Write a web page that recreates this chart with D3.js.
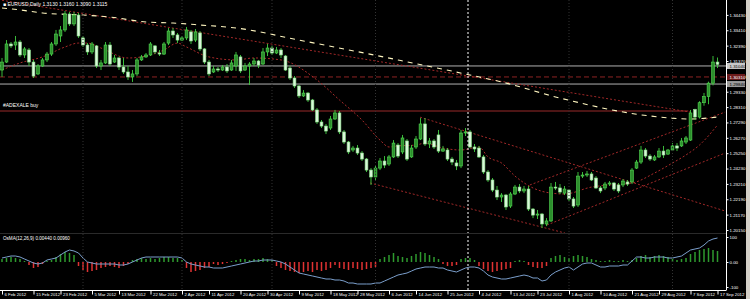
<!DOCTYPE html>
<html>
<head>
<meta charset="utf-8">
<script src="https://cdn.jsdelivr.net/npm/d3@7"></script>
<style>
  body { margin: 0; background: #000; }
  svg { display: block; font-family: Arial, "Liberation Sans", sans-serif; }
</style>
</head>
<body>
<div id="chart"></div>
<script>
// EURUSD daily bars, 6 Feb 2012 .. 17 Sep 2012 : [open, high, low, close]
var ohlc = [
  [1.3077,1.3157,1.3031,1.3130],[1.3130,1.3276,1.3124,1.3250],[1.3250,1.3263,1.3223,1.3237],[1.3243,1.3303,1.3210,1.3263],
  [1.3263,1.3276,1.3164,1.3177],[1.3177,1.3230,1.3157,1.3217],[1.3210,1.3223,1.3104,1.3130],[1.3130,1.3144,1.3024,1.3037],
  [1.3051,1.3117,1.3044,1.3104],[1.3104,1.3157,1.3097,1.3144],[1.3144,1.3197,1.3130,1.3183],[1.3183,1.3263,1.3170,1.3250],
  [1.3250,1.3343,1.3237,1.3316],[1.3303,1.3369,1.3263,1.3343],[1.3343,1.3469,1.3330,1.3449],[1.3449,1.3462,1.3369,1.3383],
  [1.3383,1.3462,1.3369,1.3442],[1.3442,1.3456,1.3290,1.3303],[1.3290,1.3303,1.3230,1.3243],[1.3243,1.3256,1.3177,1.3197],
  [1.3197,1.3263,1.3183,1.3250],[1.3237,1.3243,1.3090,1.3104],[1.3104,1.3144,1.3077,1.3124],[1.3124,1.3263,1.3117,1.3243],
  [1.3243,1.3263,1.3104,1.3117],[1.3130,1.3177,1.3124,1.3157],[1.3157,1.3164,1.3077,1.3097],[1.3097,1.3157,1.3051,1.3064],
  [1.3064,1.3104,1.3011,1.3031],[1.3031,1.3077,1.2998,1.3051],[1.3051,1.3157,1.3037,1.3144],[1.3144,1.3177,1.3137,1.3164],
  [1.3164,1.3190,1.3157,1.3177],[1.3177,1.3263,1.3170,1.3250],[1.3237,1.3243,1.3183,1.3197],[1.3190,1.3210,1.3170,1.3183],
  [1.3183,1.3263,1.3177,1.3250],[1.3256,1.3356,1.3243,1.3336],[1.3336,1.3356,1.3290,1.3310],[1.3310,1.3323,1.3256,1.3276],
  [1.3276,1.3303,1.3270,1.3290],[1.3290,1.3363,1.3276,1.3343],[1.3330,1.3343,1.3250,1.3270],[1.3276,1.3349,1.3263,1.3330],
  [1.3323,1.3336,1.3203,1.3217],[1.3217,1.3223,1.3117,1.3130],[1.3130,1.3144,1.3037,1.3051],[1.3064,1.3104,1.3057,1.3084],
  [1.3084,1.3097,1.3064,1.3077],[1.3077,1.3110,1.3071,1.3097],[1.3097,1.3117,1.3057,1.3071],[1.3077,1.3144,1.3071,1.3124],
  [1.3104,1.3197,1.3071,1.3177],[1.3164,1.3177,1.3057,1.3071],[1.3077,1.3124,1.3071,1.3104],[1.3104,1.3130,1.2978,1.3117],
  [1.3117,1.3157,1.3104,1.3137],[1.3137,1.3144,1.3090,1.3110],[1.3117,1.3223,1.3110,1.3197],[1.3197,1.3250,1.3170,1.3223],
  [1.3223,1.3237,1.3177,1.3190],[1.3190,1.3230,1.3183,1.3210],[1.3210,1.3223,1.3157,1.3177],[1.3170,1.3177,1.3071,1.3077],
  [1.3090,1.3104,1.3011,1.3024],[1.3024,1.3037,1.2958,1.2971],[1.2971,1.2978,1.2891,1.2905],[1.2905,1.2944,1.2898,1.2924],
  [1.2924,1.2931,1.2865,1.2878],[1.2878,1.2885,1.2805,1.2812],[1.2812,1.2825,1.2719,1.2732],[1.2732,1.2745,1.2692,1.2705],
  [1.2705,1.2719,1.2652,1.2672],[1.2692,1.2772,1.2679,1.2752],[1.2752,1.2812,1.2745,1.2792],[1.2792,1.2805,1.2652,1.2666],
  [1.2666,1.2679,1.2586,1.2599],[1.2599,1.2606,1.2519,1.2533],[1.2546,1.2573,1.2533,1.2559],[1.2559,1.2579,1.2513,1.2526],
  [1.2526,1.2539,1.2473,1.2486],[1.2486,1.2493,1.2400,1.2413],[1.2413,1.2426,1.2314,1.2367],[1.2367,1.2446,1.2347,1.2426],
  [1.2426,1.2493,1.2413,1.2473],[1.2473,1.2506,1.2426,1.2446],[1.2453,1.2513,1.2440,1.2500],[1.2500,1.2612,1.2493,1.2592],
  [1.2579,1.2592,1.2493,1.2506],[1.2533,1.2646,1.2519,1.2626],[1.2606,1.2619,1.2473,1.2486],[1.2500,1.2579,1.2493,1.2559],
  [1.2566,1.2639,1.2553,1.2619],[1.2619,1.2758,1.2612,1.2719],[1.2719,1.2758,1.2573,1.2586],[1.2586,1.2626,1.2559,1.2606],
  [1.2606,1.2619,1.2553,1.2566],[1.2646,1.2679,1.2526,1.2539],[1.2539,1.2573,1.2533,1.2553],[1.2546,1.2559,1.2473,1.2486],
  [1.2486,1.2500,1.2446,1.2466],[1.2460,1.2480,1.2413,1.2440],[1.2440,1.2679,1.2426,1.2659],[1.2659,1.2692,1.2639,1.2666],
  [1.2666,1.2679,1.2559,1.2566],[1.2566,1.2586,1.2533,1.2553],[1.2559,1.2573,1.2493,1.2500],[1.2500,1.2513,1.2387,1.2400],
  [1.2400,1.2413,1.2334,1.2347],[1.2347,1.2360,1.2267,1.2280],[1.2280,1.2307,1.2214,1.2234],[1.2234,1.2260,1.2201,1.2247],
  [1.2247,1.2254,1.2148,1.2168],[1.2174,1.2267,1.2161,1.2254],[1.2254,1.2314,1.2247,1.2300],[1.2300,1.2320,1.2260,1.2274],
  [1.2274,1.2307,1.2260,1.2287],[1.2287,1.2307,1.2141,1.2154],[1.2154,1.2161,1.2094,1.2114],[1.2114,1.2148,1.2088,1.2121],
  [1.2121,1.2128,1.2028,1.2055],[1.2055,1.2094,1.2041,1.2075],[1.2075,1.2327,1.2068,1.2300],[1.2300,1.2334,1.2280,1.2294],
  [1.2294,1.2320,1.2254,1.2267],[1.2260,1.2307,1.2247,1.2287],[1.2280,1.2287,1.2207,1.2221],[1.2221,1.2234,1.2161,1.2174],
  [1.2181,1.2400,1.2168,1.2373],[1.2373,1.2400,1.2360,1.2380],[1.2380,1.2407,1.2367,1.2387],[1.2387,1.2400,1.2340,1.2347],
  [1.2360,1.2373,1.2287,1.2294],[1.2294,1.2307,1.2260,1.2274],[1.2294,1.2334,1.2280,1.2320],[1.2320,1.2340,1.2307,1.2327],
  [1.2327,1.2334,1.2274,1.2287],[1.2314,1.2327,1.2260,1.2274],[1.2314,1.2353,1.2300,1.2340],[1.2334,1.2347,1.2307,1.2320],
  [1.2334,1.2426,1.2320,1.2413],[1.2426,1.2480,1.2420,1.2466],[1.2466,1.2573,1.2453,1.2546],[1.2546,1.2559,1.2493,1.2506],
  [1.2506,1.2519,1.2473,1.2486],[1.2480,1.2513,1.2473,1.2500],[1.2500,1.2559,1.2493,1.2539],[1.2539,1.2573,1.2493,1.2513],
  [1.2519,1.2553,1.2513,1.2546],[1.2546,1.2592,1.2539,1.2573],[1.2573,1.2592,1.2539,1.2559],[1.2573,1.2626,1.2566,1.2606],
  [1.2599,1.2639,1.2586,1.2626],[1.2612,1.2812,1.2606,1.2792],[1.2815,1.2820,1.2745,1.2765],[1.2765,1.2870,1.2755,1.2860],
  [1.2860,1.2925,1.2840,1.2900],[1.2900,1.3000,1.2850,1.2990],[1.2990,1.3170,1.2975,1.3130],[1.3130,1.3160,1.3090,1.3115]
];

// oscillator in the lower window (histogram and its line)
var oscHist = [12,16,20,16,12, 4,-12,-24,-20,-8, 4,8,20,32,40,36,28, -16,-32,-40,-36,-32,
  -24,-20,-16,-20,-24,-16, -8, 8,12,16,12,16,12, 16,20,20,16,16, 8, -24,-40,-36,-32, -24,-20,
  -8,-12,-8, -4,4, 8,12,12,8,12,12,16,12,8, -16,-24,-32,-36,-40,-44,-40,-36,-40,-32,-36,-32,-24,
  -12, -24,-28,-32,-24,-28,-32,-28,-24,-20, 12,20,28,36,24,20,16,24,32,40,36,28,20,12,
  -8,-16,-16,-12, 12,16,16,8, -16,-28,-36,-40,-36, -32,-28,-24, 4,8,4, -12,-20,-24,-24,-16,
  16,24,28,20,16,24,28,24,20,12, 8,4,4,8,4,4,8,4,8, 16,24,28,20,24,28,24,20,16, 8,12,16,
  32,40,48,52,56,48,44];
var oscLine = [16,20,24,24,20,12,4,-4,-8,-4, 8,12,16,28,40,48,44,36,16,0,
  -4,-8,-8,-8,-8,-8,-12,-12,-8,0, 8,16,20,20,20,20,20,20,20,20,
  16,0,-8,-12,-16,-20,-20,-24,-24,-24, -20,-16,-12,-8,-4,0,4,4,8,8,
  8,4,0,-8,-20,-32,-44,-48,-52,-56, -60,-64,-68,-68,-72,-72,-76,-84,-84,-88,
  -88,-88,-88,-84,-84,-76,-68,-60,-52,-48, -44,-36,-28,-24,-20,-20,-20,-24,-24,-32,
  -36,-40,-32,-24,-20,-20,-24,-36,-52,-60, -64,-68,-68,-64,-60,-56,-52,-56,-64,-64,
  -76,-72,-52,-40,-32,-24,-20,-32,-20,-8, -4,-4,-12,-20,-20,-16,-16,-16,-12,-12,
  4,20,20,16,16,20,20,20,16,16, 20,24,36,48,52,56,68,84,92,96];

// slow moving average (dashed pale yellow), read at some bars
var slowMaBars = [0,4,9,18,24,32,38,44,52,66,88,104,111,124,144,153,159];
var slowMaVals = [1.3489,1.3476,1.3456,1.3442,1.3429,1.3396,1.3389,1.3376,1.3356,1.3276,1.3144,1.3044,1.2998,1.2891,1.2772,1.2752,1.2765];
// medium moving average (dotted dark red)
var midMaBars = [0,4,9,14,17,19,22,28,31,36,39,41,46,52,56,62,70,75,80,84,86,88,92,94,98,102,106,108,111,114,118,122,125,131,135,140,145,149,152,155,159];
var midMaVals = [1.3077,1.3124,1.3164,1.3230,1.3256,1.3256,1.3223,1.3157,1.3164,1.3210,1.3256,1.3230,1.3164,1.3144,1.3157,1.3144,
  1.3011,1.2878,1.2745,1.2612,1.2566,1.2573,1.2579,1.2592,1.2559,1.2546,1.2566,1.2500,1.2460,1.2373,1.2294,1.2260,1.2254,
  1.2300,1.2314,1.2327,1.2393,1.2460,1.2513,1.2579,1.2712];

// trend lines [bar1, price1, bar2, price2]
var trendLines = [
  [0, 1.3540, 152.9, 1.2798],
  [92.9, 1.2764, 160.7, 1.2141],
  [81.8, 1.2327, 125.1, 1.1995],
  [121.1, 1.2048, 160.7, 1.2526],
  [117.3, 1.2314, 160.7, 1.2798]
];
var greyLevels = [1.3104, 1.2984];
var dashLevel = 1.3031;
var buyLevel = 1.2805;

var priceTicks = [1.34430,1.33410,1.32390,1.31370,1.30350,1.29330,1.28310,1.27290,1.26270,1.25250,1.24230,1.23210,1.22190,1.21170,1.20150];
var monthStartBars = [18, 40, 60, 83, 126, 149];
var markerBar = 104;
var dateBars = [0,7,13,20,26,33,40,46,53,59,66,73,79,86,92,99,106,113,119,126,133,140,146,153,159];
var dateLabels = ["6 Feb 2012","15 Feb 2012","23 Feb 2012","5 Mar 2012","13 Mar 2012","22 Mar 2012","2 Apr 2012",
  "11 Apr 2012","20 Apr 2012","30 Apr 2012","9 May 2012","18 May 2012","28 May 2012","6 Jun 2012","14 Jun 2012",
  "25 Jun 2012","4 Jul 2012","13 Jul 2012","23 Jul 2012","1 Aug 2012","10 Aug 2012","21 Aug 2012","29 Aug 2012",
  "7 Sep 2012","17 Sep 2012"];

var W = 750, H = 299;
var plotRight = 726, mainBottom = 233, subTop = 234, subBottom = 290;

var svg = d3.select("#chart").append("svg").attr("width", W).attr("height", H);
svg.append("rect").attr("width", W).attr("height", H).attr("fill", "#000");

var x = d3.scaleLinear().domain([0, 159]).range([2, 717.5]);
var y = d3.scaleLinear().domain([1.2015, 1.3443]).range([230, 14.9]);
var yo = d3.scaleLinear().domain([-100, 100]).range([287, 237]);

var defs = svg.append("defs");
defs.append("clipPath").attr("id", "clipMain").append("rect")
  .attr("x", 0).attr("y", 0).attr("width", plotRight).attr("height", mainBottom);
defs.append("clipPath").attr("id", "clipSub").append("rect")
  .attr("x", 0).attr("y", subTop).attr("width", plotRight).attr("height", subBottom - subTop);

var main = svg.append("g").attr("clip-path", "url(#clipMain)");
var sub = svg.append("g").attr("clip-path", "url(#clipSub)");

// month separators
svg.append("g").selectAll("line").data(monthStartBars).enter().append("line")
  .attr("x1", function (d) { return x(d); }).attr("x2", function (d) { return x(d); })
  .attr("y1", 0).attr("y2", subBottom)
  .attr("stroke", "#333").attr("stroke-width", 1).attr("stroke-dasharray", "1,2");

// horizontal levels
main.selectAll(".grey").data(greyLevels).enter().append("line")
  .attr("x1", 0).attr("x2", plotRight)
  .attr("y1", function (d) { return y(d); }).attr("y2", function (d) { return y(d); })
  .attr("stroke", "#b0b0b0").attr("stroke-width", 1);
main.append("line").attr("x1", 0).attr("x2", plotRight)
  .attr("y1", y(dashLevel)).attr("y2", y(dashLevel))
  .attr("stroke", "#8e2323").attr("stroke-width", 1).attr("stroke-dasharray", "5,3");
main.append("line").attr("x1", 0).attr("x2", x(152.5))
  .attr("y1", y(buyLevel)).attr("y2", y(buyLevel))
  .attr("stroke", "#9a2b2b").attr("stroke-width", 1);

// trend lines
main.selectAll(".trend").data(trendLines).enter().append("line")
  .attr("x1", function (d) { return x(d[0]); }).attr("y1", function (d) { return y(d[1]); })
  .attr("x2", function (d) { return x(d[2]); }).attr("y2", function (d) { return y(d[3]); })
  .attr("stroke", "#a02828").attr("stroke-width", 1).attr("stroke-dasharray", "2,2");

// moving averages
var maLine = d3.line()
  .x(function (d) { return x(d[0]); })
  .y(function (d) { return y(d[1]); })
  .curve(d3.curveMonotoneX);
main.append("path").datum(midMaBars.map(function (b, i) { return [b, midMaVals[i]]; }))
  .attr("d", maLine).attr("fill", "none")
  .attr("stroke", "#a82a2a").attr("stroke-width", 1).attr("stroke-dasharray", "2,2");
main.append("path").datum(slowMaBars.map(function (b, i) { return [b, slowMaVals[i]]; }))
  .attr("d", maLine).attr("fill", "none")
  .attr("stroke", "#fff6c0").attr("stroke-width", 1.1).attr("stroke-dasharray", "5,5");

// candles
var candles = main.selectAll(".candle").data(ohlc).enter().append("g");
candles.append("line")
  .attr("x1", function (d, i) { return x(i); }).attr("x2", function (d, i) { return x(i); })
  .attr("y1", function (d) { return y(d[1]); }).attr("y2", function (d) { return y(d[2]); })
  .attr("stroke", "#3fcf3f").attr("stroke-width", 0.9);
candles.append("rect")
  .attr("x", function (d, i) { return x(i) - 1.4; })
  .attr("width", 2.8)
  .attr("y", function (d) { return y(Math.max(d[0], d[3])); })
  .attr("height", function (d) { return Math.max(1, Math.abs(y(d[0]) - y(d[3]))); })
  .attr("fill", function (d) { return d[3] >= d[0] ? "#2c8f2c" : "#d9f7d9"; })
  .attr("stroke", function (d) { return d[3] >= d[0] ? "#55dd55" : "#8ee48e"; })
  .attr("stroke-width", 0.6);

// lower window
sub.selectAll(".bar").data(oscHist).enter().append("line")
  .attr("x1", function (d, i) { return x(i); }).attr("x2", function (d, i) { return x(i); })
  .attr("y1", yo(0)).attr("y2", function (d) { return yo(d); })
  .attr("stroke", function (d) { return d >= 0 ? "#2e9a2e" : "#e03232"; })
  .attr("stroke-width", 1.5);
sub.append("path").datum(oscLine)
  .attr("d", d3.line().x(function (d, i) { return x(i); }).y(function (d) { return yo(d); }))
  .attr("fill", "none").attr("stroke", "#7b9fcc").attr("stroke-width", 1);

// marker vertical line
svg.append("line").attr("x1", x(markerBar) - 2).attr("x2", x(markerBar) - 2)
  .attr("y1", 0).attr("y2", subBottom)
  .attr("stroke", "#ffffff").attr("stroke-width", 1).attr("stroke-dasharray", "2,2");

// frame
svg.append("line").attr("x1", plotRight + 0.5).attr("x2", plotRight + 0.5).attr("y1", 0).attr("y2", subBottom)
  .attr("stroke", "#fff");
svg.append("line").attr("x1", 0).attr("x2", plotRight + 0.5).attr("y1", subBottom + 0.5).attr("y2", subBottom + 0.5)
  .attr("stroke", "#fff");
svg.append("line").attr("x1", 0).attr("x2", plotRight).attr("y1", mainBottom + 0.5).attr("y2", mainBottom + 0.5)
  .attr("stroke", "#2a2a2a");
svg.append("rect").attr("x", 746).attr("y", 0).attr("width", 4).attr("height", H).attr("fill", "#d4d0c8");

// price axis
var yAxis = d3.axisRight(y).tickValues(priceTicks).tickSize(2).tickFormat(d3.format(".5f"));
var gy = svg.append("g").attr("transform", "translate(" + (plotRight + 0.5) + ",0)").call(yAxis);
gy.select(".domain").remove();
gy.selectAll("line").attr("stroke", "#fff");
gy.selectAll("text").attr("fill", "#fff").attr("font-size", 4.4).attr("x", 3);

// tag boxes on the price axis
var tags = [[y(1.3104), "1.31040", "#c8c8c8", "#000"], [y(dashLevel), "1.30310", "#6e1c1c", "#fff"], [y(1.2984), "1.29840", "#9a9a9a", "#000"]];
var tg = svg.append("g").selectAll("g").data(tags).enter().append("g")
  .attr("transform", function (d) { return "translate(" + (plotRight + 1) + "," + d[0] + ")"; });
tg.append("rect").attr("x", 0).attr("y", -3).attr("width", 18).attr("height", 6).attr("fill", function (d) { return d[2]; });
tg.append("text").attr("x", 2.5).attr("y", 1.6).attr("font-size", 4.4).attr("fill", function (d) { return d[3]; }).text(function (d) { return d[1]; });

// oscillator axis
var oAxis = d3.axisRight(yo).tickValues([100, 0, -100]).tickSize(2)
  .tickFormat(function (d) { return d === 0 ? "0.00" : d; });
var go = svg.append("g").attr("transform", "translate(" + (plotRight + 0.5) + ",0)").call(oAxis);
go.select(".domain").remove();
go.selectAll("line").attr("stroke", "#fff");
go.selectAll("text").attr("fill", "#fff").attr("font-size", 4.4).attr("x", 3);

// time axis
var xAxis = d3.axisBottom(x).tickValues(dateBars).tickSize(4)
  .tickFormat(function (d) { return dateLabels[dateBars.indexOf(d)]; });
var gx = svg.append("g").attr("transform", "translate(0," + (subBottom + 0.5) + ")").call(xAxis);
gx.select(".domain").remove();
gx.selectAll("line").attr("stroke", "#fff");
gx.selectAll("text").attr("fill", "#fff").attr("font-size", 4.3)
  .attr("text-anchor", "start").attr("x", 2).attr("y", 2.5).attr("dy", "0.7em");

// captions
svg.append("text").attr("x", 3).attr("y", 6).attr("font-size", 5).attr("fill", "#fff")
  .text("\u25A0 EURUSD,Daily  1.3130 1.3160 1.3090 1.3115");
svg.append("text").attr("x", 3).attr("y", y(buyLevel) - 4).attr("font-size", 5).attr("fill", "#fff")
  .text("#ADEXALE buy");
svg.append("text").attr("x", 3).attr("y", 240).attr("font-size", 4.6).attr("fill", "#fff")
  .text("OsMA(12,26,9) 0.00440 0.00960");
</script>
</body>
</html>
